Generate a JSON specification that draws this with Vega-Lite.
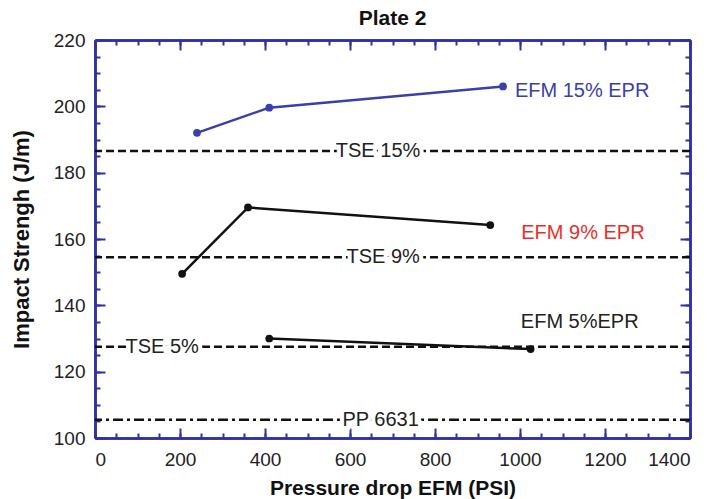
{
  "$schema": "https://vega.github.io/schema/vega-lite/v6.json",
  "width": 595,
  "height": 398,
  "autosize": {"type": "none"},
  "padding": {"left": 95, "top": 40, "right": 25, "bottom": 61},
  "title": {"text": "Plate 2", "font": "Liberation Sans", "fontSize": 21, "fontWeight": "bold", "color": "#111", "offset": 2, "anchor": "middle"},
  "config": {
    "view": {"stroke": null},
    "axis": {
      "domainColor": "#2e31a0", "domainWidth": 2.5, "tickColor": "#2e31a0", "tickWidth": 2,
      "labelFont": "Liberation Sans", "labelFontSize": 19, "labelColor": "#222",
      "titleFont": "Liberation Sans", "titleFontSize": 22, "titleFontWeight": "bold", "titleColor": "#111",
      "grid": false
    }
  },
  "datasets": {
    "series": [
      {"series": "EFM 15% EPR", "x": 240, "y": 192},
      {"series": "EFM 15% EPR", "x": 410, "y": 199.6},
      {"series": "EFM 15% EPR", "x": 960, "y": 206},
      {"series": "EFM 9% EPR", "x": 205, "y": 149.5},
      {"series": "EFM 9% EPR", "x": 360, "y": 169.5},
      {"series": "EFM 9% EPR", "x": 930, "y": 164.2},
      {"series": "EFM 5%EPR", "x": 410, "y": 130},
      {"series": "EFM 5%EPR", "x": 1025, "y": 126.8}
    ],
    "refs": [
      {"name": "TSE 15%", "kind": "TSE", "y": 186.5, "lx": 666},
      {"name": "TSE 9%", "kind": "TSE", "y": 154.5, "lx": 678},
      {"name": "TSE 5%", "kind": "TSE", "y": 127.5, "lx": 158},
      {"name": "PP 6631", "kind": "PP", "y": 105.5, "lx": 672}
    ],
    "labels": [
      {"label": "EFM 15% EPR", "x": 988, "y": 204.6},
      {"label": "EFM 9% EPR", "x": 1003, "y": 161.8},
      {"label": "EFM 5%EPR", "x": 1002, "y": 135}
    ]
  },
  "resolve": {"axis": {"x": "independent", "y": "independent"}, "scale": {"color": "independent"}},
  "layer": [
    {
      "data": {"name": "refs"},
      "mark": {"type": "rule", "strokeWidth": 2.5, "color": "#111"},
      "encoding": {
        "y": {"field": "y", "type": "quantitative", "scale": {"domain": [100, 220], "nice": false}, "axis": null},
        "strokeDash": {"field": "kind", "type": "nominal", "scale": {"domain": ["TSE", "PP"], "range": [[8, 4], [10, 4, 3, 4]]}, "legend": null}
      }
    },
    {
      "data": {"name": "refs"},
      "mark": {"type": "text", "font": "Liberation Sans", "fontSize": 20, "stroke": "white", "strokeWidth": 8, "fill": "white", "baseline": "middle"},
      "encoding": {
        "x": {"field": "lx", "type": "quantitative", "scale": {"domain": [0, 1400], "nice": false}, "axis": null},
        "y": {"field": "y", "type": "quantitative", "axis": null},
        "text": {"field": "name"}
      }
    },
    {
      "data": {"name": "refs"},
      "mark": {"type": "text", "font": "Liberation Sans", "fontSize": 20, "color": "#222", "baseline": "middle"},
      "encoding": {
        "x": {"field": "lx", "type": "quantitative", "axis": null},
        "y": {"field": "y", "type": "quantitative", "axis": null},
        "text": {"field": "name"}
      }
    },
    {
      "data": {"name": "series"},
      "mark": {"type": "line", "strokeWidth": 2.5},
      "encoding": {
        "x": {"field": "x", "type": "quantitative", "axis": {"orient": "bottom", "values": [0, 200, 400, 600, 800, 1000, 1200, 1400], "format": "d", "tickSize": -10, "labelPadding": 22, "title": "Pressure drop EFM (PSI)", "titleFontSize": 21, "titlePadding": 8}},
        "y": {"field": "y", "type": "quantitative", "axis": {"orient": "left", "values": [100, 120, 140, 160, 180, 200, 220], "tickSize": -10, "labelPadding": 20, "title": "Impact Strengh (J/m)", "titlePadding": 20}},
        "color": {"field": "series", "type": "nominal", "scale": {"domain": ["EFM 15% EPR", "EFM 9% EPR", "EFM 5%EPR"], "range": ["#3b3fa8", "#111111", "#111111"]}, "legend": null},
        "detail": {"field": "series"}
      }
    },
    {
      "data": {"name": "series"},
      "mark": {"type": "point", "filled": true, "size": 60, "opacity": 1},
      "encoding": {
        "x": {"field": "x", "type": "quantitative", "axis": {"orient": "bottom", "values": [0,50,100,150,200,250,300,350,400,450,500,550,600,650,700,750,800,850,900,950,1000,1050,1100,1150,1200,1250,1300,1350,1400], "tickSize": -5, "labels": false, "title": null}},
        "y": {"field": "y", "type": "quantitative", "axis": {"orient": "left", "values": [100,105,110,115,120,125,130,135,140,145,150,155,160,165,170,175,180,185,190,195,200,205,210,215,220], "tickSize": -5, "labels": false, "title": null}},
        "color": {"field": "series", "type": "nominal", "scale": {"domain": ["EFM 15% EPR", "EFM 9% EPR", "EFM 5%EPR"], "range": ["#3b3fa8", "#111111", "#111111"]}, "legend": null}
      }
    },
    {
      "data": {"name": "labels"},
      "mark": {"type": "text", "font": "Liberation Sans", "fontSize": 20, "align": "left", "baseline": "middle"},
      "encoding": {
        "x": {"field": "x", "type": "quantitative", "axis": {"orient": "top", "values": [0, 200, 400, 600, 800, 1000, 1200, 1400], "tickSize": -10, "labels": false, "title": null}},
        "y": {"field": "y", "type": "quantitative", "axis": {"orient": "right", "values": [100, 120, 140, 160, 180, 200, 220], "tickSize": -10, "labels": false, "title": null}},
        "text": {"field": "label"},
        "color": {"field": "label", "type": "nominal", "scale": {"domain": ["EFM 15% EPR", "EFM 9% EPR", "EFM 5%EPR"], "range": ["#3b3fa8", "#e8302a", "#222222"]}, "legend": null}
      }
    },
    {
      "data": {"name": "labels"},
      "mark": {"type": "point", "opacity": 0},
      "encoding": {
        "x": {"field": "x", "type": "quantitative", "axis": {"orient": "top", "values": [0,50,100,150,200,250,300,350,400,450,500,550,600,650,700,750,800,850,900,950,1000,1050,1100,1150,1200,1250,1300,1350,1400], "tickSize": -5, "labels": false, "title": null}},
        "y": {"field": "y", "type": "quantitative", "axis": {"orient": "right", "values": [100,105,110,115,120,125,130,135,140,145,150,155,160,165,170,175,180,185,190,195,200,205,210,215,220], "tickSize": -5, "labels": false, "title": null}}
      }
    }
  ]
}
